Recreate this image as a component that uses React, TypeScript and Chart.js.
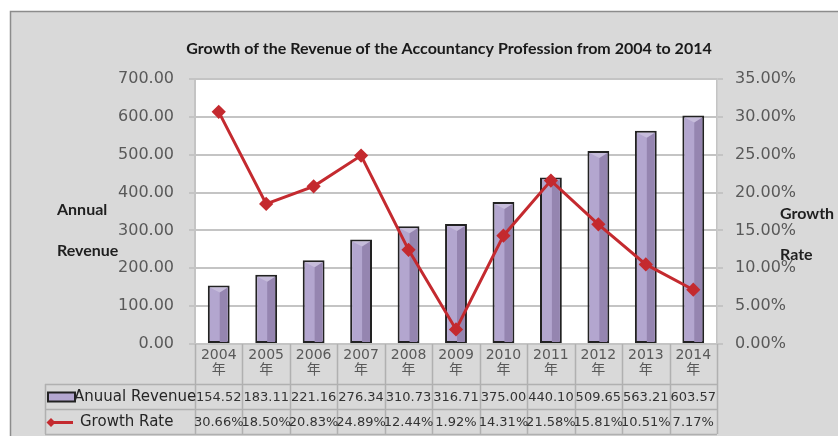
import React, { useEffect, useRef } from 'react';
import { Chart, registerables } from 'chart.js';

Chart.register(...registerables);

// ---------- data ----------
const categories = ['2004年', '2005年', '2006年', '2007年', '2008年', '2009年', '2010年', '2011年', '2012年', '2013年', '2014年'];
const annualRevenue = [154.52, 183.11, 221.16, 276.34, 310.73, 316.71, 375.0, 440.1, 509.65, 563.21, 603.57];
const growthRate = [30.66, 18.5, 20.83, 24.89, 12.44, 1.92, 14.31, 21.58, 15.81, 10.51, 7.17];
const revenueAxis = { min: 0, max: 700, step: 100 };
const rateAxis = { min: 0, max: 35, step: 5 };
const seriesNames = ['Anuual Revenue', 'Growth Rate'];
const titleText = 'Growth of the Revenue of the Accountancy Profession from 2004 to 2014';
const leftAxisTitle = ['Annual', 'Revenue'];
const rightAxisTitle = ['Growth', 'Rate'];

// ---------- style ----------
const FONT = '"DejaVu Sans", "Noto Sans CJK SC", sans-serif';
const TITLE_FONT = 'Lato, "Open Sans", sans-serif';
const PANEL = '#d9d9d9';
const GRID = '#c4c4c4';
const TICK_COLOR = '#595959';
const BAR_FILL = '#b3a6cf';
const BAR_DARK = '#9585b0';
const BAR_BORDER = '#222222';
const LINE_RED = '#c42a2f';
const TABLE_LINE = '#b0b0b0';
const TABLE_LEFT = 45;

const decorPlugin = {
  id: 'decor',
  beforeDraw(chart: any) {
    const { ctx, width, height, chartArea: a } = chart;
    ctx.save();
    ctx.fillStyle = '#ffffff';
    ctx.fillRect(0, 0, width, height);
    ctx.fillStyle = PANEL;
    ctx.fillRect(10, 11, width - 10, height - 11);
    ctx.strokeStyle = '#8c8c8c';
    ctx.lineWidth = 1.5;
    ctx.beginPath();
    ctx.moveTo(10.5, height);
    ctx.lineTo(10.5, 11.5);
    ctx.lineTo(width, 11.5);
    ctx.stroke();
    ctx.fillStyle = '#ffffff';
    ctx.fillRect(a.left, a.top, a.right - a.left, a.bottom - a.top);
    ctx.restore();
  },
  afterDatasetDraw(chart: any, args: any) {
    if (chart.data.datasets[args.index].type !== 'bar') return;
    const { ctx } = chart;
    ctx.save();
    args.meta.data.forEach((el: any) => {
      const { x, y, base, width } = el.getProps(['x', 'y', 'base', 'width'], true);
      const right = x + width / 2 - 2;
      const left = x - width / 2 + 2;
      ctx.fillStyle = BAR_DARK;
      ctx.beginPath();
      ctx.moveTo(x + 1, y + 7);
      ctx.lineTo(right, y + 2);
      ctx.lineTo(right, base - 1);
      ctx.lineTo(x + 1, base - 1);
      ctx.closePath();
      ctx.fill();
      ctx.fillStyle = 'rgba(255,255,255,0.25)';
      ctx.beginPath();
      ctx.moveTo(left, y + 2);
      ctx.lineTo(right, y + 2);
      ctx.lineTo(x + 1, y + 7);
      ctx.closePath();
      ctx.fill();
    });
    ctx.restore();
  },
  afterDraw(chart: any) {
    const { ctx, chartArea: a } = chart;
    const xs = chart.scales.x;
    const n = categories.length;
    const colW = (a.right - a.left) / n;
    const r1 = xs.bottom;
    const rowH = 25;
    ctx.save();

    // title
    ctx.fillStyle = '#1a1a1a';
    ctx.font = `bold 16px ${TITLE_FONT}`;
    ctx.textAlign = 'center';
    ctx.textBaseline = 'middle';
    ctx.fillText(titleText, (a.left + a.right) / 2 - 7, 49);

    // axis titles
    ctx.font = `bold 16px ${TITLE_FONT}`;
    ctx.textAlign = 'left';
    ctx.fillStyle = '#1f1f1f';
    const midY = (a.top + a.bottom) / 2;
    ctx.fillText(leftAxisTitle[0], a.left - 138, midY - 2);
    ctx.fillText(leftAxisTitle[1], a.left - 138, midY + 39);
    ctx.fillText(rightAxisTitle[0], a.right + 63, midY + 2);
    ctx.fillText(rightAxisTitle[1], a.right + 63, midY + 43);

    // table lines
    ctx.strokeStyle = TABLE_LINE;
    ctx.lineWidth = 1.5;
    ctx.beginPath();
    for (let i = 0; i <= n; i++) {
      const bx = Math.round(xs.getPixelForValue(0) - colW / 2 + i * colW) + 0.5;
      ctx.moveTo(bx, a.bottom);
      ctx.lineTo(bx, r1 + 2 * rowH);
    }
    for (let k = 0; k <= 2; k++) {
      const yy = Math.round(r1 + k * rowH) + 0.5;
      ctx.moveTo(TABLE_LEFT, yy);
      ctx.lineTo(a.right, yy);
    }
    ctx.moveTo(TABLE_LEFT + 0.5, r1);
    ctx.lineTo(TABLE_LEFT + 0.5, r1 + 2 * rowH);
    ctx.stroke();

    // values
    ctx.font = `13px ${FONT}`;
    ctx.fillStyle = '#333333';
    ctx.textAlign = 'center';
    ctx.textBaseline = 'middle';
    for (let i = 0; i < n; i++) {
      const cx = xs.getPixelForValue(i);
      ctx.fillText(annualRevenue[i].toFixed(2), cx, r1 + rowH / 2 + 1);
      ctx.fillText(growthRate[i].toFixed(2) + '%', cx, r1 + rowH * 1.5 + 1);
    }

    // legend keys
    const y1 = r1 + rowH / 2 + 1;
    const y2 = r1 + rowH * 1.5 + 1;
    ctx.fillStyle = BAR_FILL;
    ctx.strokeStyle = BAR_BORDER;
    ctx.lineWidth = 2;
    ctx.fillRect(48, y1 - 5, 27, 9);
    ctx.strokeRect(48, y1 - 5, 27, 9);
    ctx.strokeStyle = LINE_RED;
    ctx.lineWidth = 3;
    ctx.beginPath();
    ctx.moveTo(48, y2);
    ctx.lineTo(73, y2);
    ctx.stroke();
    ctx.fillStyle = LINE_RED;
    ctx.beginPath();
    ctx.moveTo(51, y2 - 4.5);
    ctx.lineTo(55.5, y2);
    ctx.lineTo(51, y2 + 4.5);
    ctx.lineTo(46.5, y2);
    ctx.closePath();
    ctx.fill();

    ctx.font = `15px ${FONT}`;
    ctx.fillStyle = '#262626';
    ctx.textAlign = 'left';
    ctx.fillText(seriesNames[0], 74, y1);
    ctx.fillText(seriesNames[1], 80, y2);
    ctx.restore();
  },
};

export default function App() {
  const ref = useRef<HTMLCanvasElement>(null);
  useEffect(() => {
    const chart = new Chart(ref.current as HTMLCanvasElement, {
      type: 'bar',
      data: {
        labels: categories,
        datasets: [
          {
            type: 'line',
            label: seriesNames[1],
            data: growthRate,
            yAxisID: 'y1',
            order: 0,
            borderColor: LINE_RED,
            backgroundColor: LINE_RED,
            borderWidth: 3,
            pointStyle: 'rectRot',
            pointRadius: 5,
            pointBackgroundColor: LINE_RED,
            pointBorderColor: LINE_RED,
            tension: 0,
          } as any,
          {
            type: 'bar',
            label: seriesNames[0],
            data: annualRevenue,
            yAxisID: 'y',
            order: 1,
            backgroundColor: BAR_FILL,
            borderColor: BAR_BORDER,
            borderWidth: 2,
            borderSkipped: false,
            categoryPercentage: 1,
            barPercentage: 0.46,
          } as any,
        ],
      },
      options: {
        responsive: false,
        animation: false,
        devicePixelRatio: 1,
        layout: { padding: { top: 79, bottom: 52, left: 0, right: 0 } },
        plugins: { legend: { display: false }, title: { display: false }, tooltip: { enabled: false } },
        scales: {
          x: {
            grid: { display: false, drawTicks: false },
            border: { display: true, color: GRID, width: 1.5 },
            ticks: {
              autoSkip: false,
              maxRotation: 0,
              padding: 3.5,
              color: TICK_COLOR,
              font: { family: FONT, size: 14, lineHeight: '15px' },
              callback: function (this: any, v: any) {
                const s = categories[v as number];
                return [s.slice(0, 4), s.slice(4)];
              },
            },
            afterFit: (s: any) => {
              s.height = 40;
            },
          },
          y: {
            position: 'left',
            min: revenueAxis.min,
            max: revenueAxis.max,
            grid: { color: GRID, lineWidth: 2, tickLength: 6 },
            border: { display: true, color: GRID, width: 2 },
            ticks: {
              stepSize: revenueAxis.step,
              padding: 15,
              color: TICK_COLOR,
              font: { family: FONT, size: 16 },
              callback: (v: any) => Number(v).toFixed(2),
            },
            afterFit: (s: any) => {
              s.width = 195;
            },
          },
          y1: {
            position: 'right',
            min: rateAxis.min,
            max: rateAxis.max,
            grid: { drawOnChartArea: false, color: GRID, lineWidth: 2, tickLength: 6 },
            border: { display: true, color: GRID, width: 1.5 },
            ticks: {
              stepSize: rateAxis.step,
              padding: 12,
              color: TICK_COLOR,
              font: { family: FONT, size: 16 },
              callback: (v: any) => Number(v).toFixed(2) + '%',
            },
            afterFit: (s: any) => {
              s.width = 121;
            },
          },
        },
      } as any,
      plugins: [decorPlugin],
    });
    return () => chart.destroy();
  }, []);
  return (
    <div style={{ position: 'fixed', left: 0, top: 0, width: 838, height: 436 }}>
      <canvas ref={ref} width={838} height={436} style={{ display: 'block' }} />
    </div>
  );
}
